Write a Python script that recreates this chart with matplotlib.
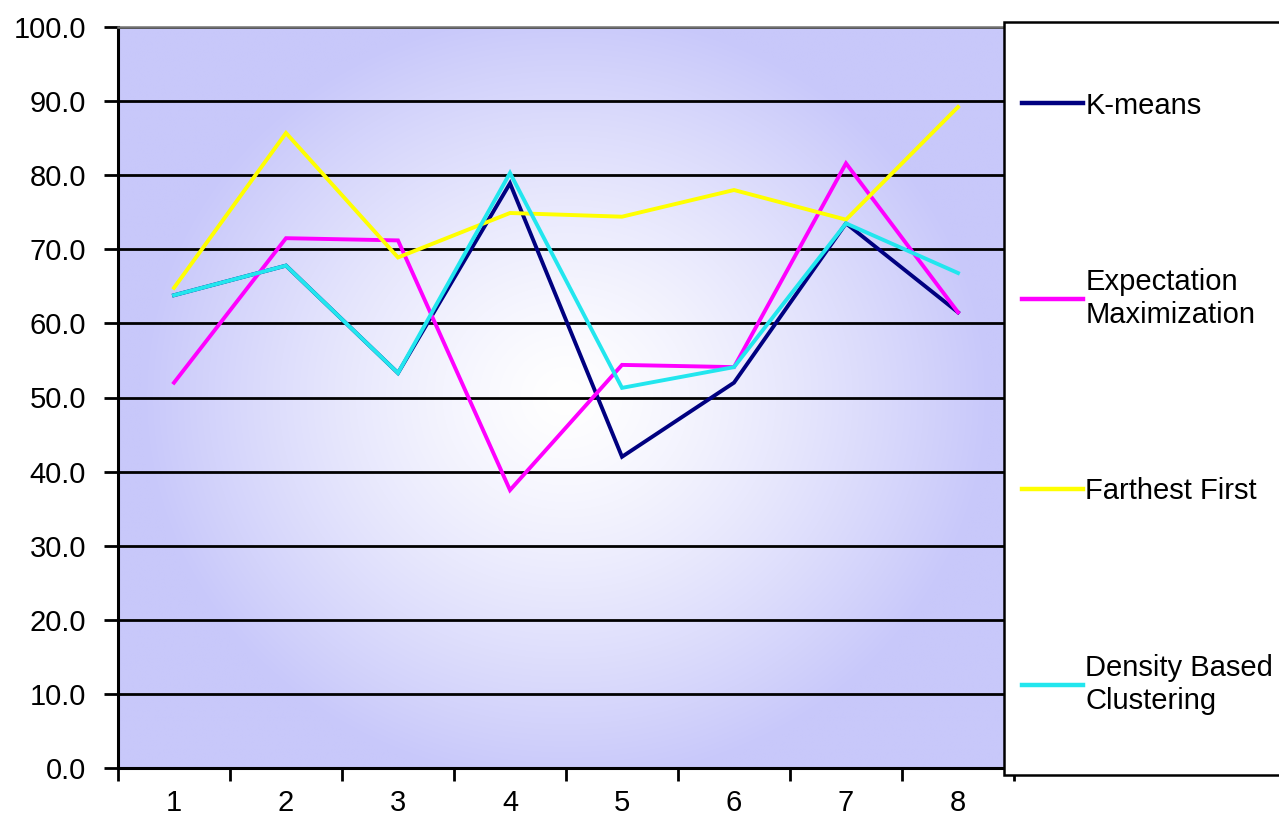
import numpy as np
import matplotlib
matplotlib.use('Agg')
import matplotlib.pyplot as plt
from matplotlib.patches import Rectangle
from matplotlib.ticker import FormatStrFormatter, MultipleLocator

plt.rcParams['font.family'] = ['Liberation Sans', 'DejaVu Sans']

# =============================================================================
# DATA
# =============================================================================

runs = [1, 2, 3, 4, 5, 6, 7, 8]

kmeans = [63.8, 67.8, 53.3, 78.9, 42.0, 52.0, 73.5, 61.5]
expectation_max = [52.0, 71.5, 71.2, 37.5, 54.4, 54.1, 81.6, 61.5]
farthest_first = [64.8, 85.7, 68.9, 74.9, 74.4, 78.0, 74.0, 89.2]
density_based = [63.8, 67.8, 53.3, 80.3, 51.3, 54.1, 73.5, 66.8]

series_labels = ['K-means', 'Expectation\nMaximization',
                 'Farthest First', 'Density Based\nClustering']
series_colors = ['#000080', '#FF00FF', '#FFFF00', '#22E6EE']

# =============================================================================
# PLOT
# =============================================================================

fig = plt.figure(figsize=(12.79, 8.27), dpi=100)
ax = fig.add_axes([118 / 1279, 1 - 768 / 827,
                   (1014 - 118) / 1279, (768 - 27) / 827])

# Plot-area fill: lavender edges fading to white in the middle
nx, ny = 400, 300
gx = np.linspace(-1, 1, nx)
gy = np.linspace(-1, 1, ny)
X, Y = np.meshgrid(gx, gy)
t = np.clip(np.sqrt((X / 0.95) ** 2 + (Y / 1.05) ** 2), 0, 1) ** 1.3
edge = np.array([200, 200, 250]) / 255.0
white = np.array([1.0, 1.0, 1.0])
grad = white[None, None, :] * (1 - t[..., None]) + edge[None, None, :] * t[..., None]
ax.imshow(grad, extent=(0.5, 8.5, 0, 100), aspect='auto', zorder=0,
          interpolation='bilinear')

lines = []
for vals, lab, col in zip([kmeans, expectation_max, farthest_first, density_based],
                          series_labels, series_colors):
    ln, = ax.plot(runs, vals, color=col, lw=2.8, label=lab, zorder=3,
                  solid_joinstyle='miter')
    lines.append(ln)

ax.set_xlim(0.5, 8.5)
ax.set_ylim(0, 100)

ax.yaxis.set_major_locator(MultipleLocator(10))
ax.yaxis.set_major_formatter(FormatStrFormatter('%.1f'))
ax.yaxis.grid(True, color='black', lw=2.0, zorder=1)
ax.set_axisbelow(True)

ax.set_xticks(runs)
ax.set_xticks(np.arange(0.5, 9.0, 1.0), minor=True)
ax.tick_params(axis='x', which='major', length=0, pad=15, labelsize=21)
ax.tick_params(axis='x', which='minor', length=9, width=2.0, direction='out')
ax.tick_params(axis='y', length=10, width=2.0, pad=13, labelsize=21)

ax.spines['left'].set_linewidth(2.2)
ax.spines['bottom'].set_linewidth(2.2)
ax.spines['top'].set_color('#707070')
ax.spines['top'].set_linewidth(1.8)
ax.spines['right'].set_visible(False)

# Legend panel overlapping the right end of the plot area
box = Rectangle((1004 / 1279, 1 - 775 / 827), 0.3, (775 - 22) / 827,
                transform=fig.transFigure, facecolor='white',
                edgecolor='black', lw=1.8, zorder=5)
fig.add_artist(box)

leg = fig.legend(handles=lines, loc='upper left',
                 bbox_to_anchor=(1007 / 1279, 1 - 77 / 827),
                 frameon=False, fontsize=21, handlelength=2.1,
                 handletextpad=0.08, labelspacing=5.1, borderpad=0)
leg.set_zorder(6)
for h in leg.get_lines():
    h.set_linewidth(3.2)

fig.savefig('out.png', dpi=100)
